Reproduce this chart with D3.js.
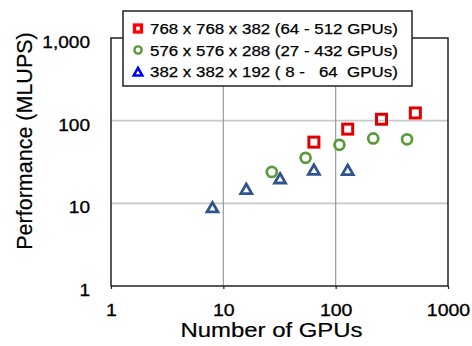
<!DOCTYPE html>
<html><head><meta charset="utf-8">
<script src="https://cdn.jsdelivr.net/npm/d3@7"></script>
<style>
html,body{margin:0;padding:0;background:#fff;}
text{font-family:"Liberation Sans",Arial,Helvetica,sans-serif;fill:#000;stroke:#000;stroke-width:0.25px;}
</style></head>
<body><svg id="c" width="472" height="346"></svg>
<script>
// Data
const xTicks = [1, 10, 100, 1000];
const xTickLabels = ["1", "10", "100", "1000"];
const yTicks = [1, 10, 100, 1000];
const yTickLabels = ["1", "10", "100", "1,000"];
const seriesNames = [
  "768 x 768 x 382 (64 - 512 GPUs)",
  "576 x 576 x 288 (27 - 432 GPUs)",
  "382 x 382 x 192 ( 8 -   64  GPUs)"
];
const gpusA = [64, 128, 256, 512];
const perfA = [55, 79, 104, 124];
const gpusB = [27, 54, 108, 216, 432];
const perfB = [24, 35.5, 51, 61, 59.5];
const gpusC = [8, 16, 32, 64, 128];
const perfC = [9.1, 15.2, 20.4, 26, 25.8];

const svg = d3.select("#c");
const W = 472, H = 346;
const m = {left: 111, right: 24, top: 38, bottom: 60};
const x = d3.scaleLog().domain([1, 1000]).range([m.left, W - m.right]);
const y = d3.scaleLog().domain([1, 1000]).range([H - m.bottom, m.top]);

// grid
svg.append("g").selectAll("line").data([10, 100]).join("line")
  .attr("x1", m.left).attr("x2", W - m.right)
  .attr("y1", d => y(d)).attr("y2", d => y(d))
  .attr("stroke", "#c8c8c8").attr("stroke-width", 1.6);
svg.append("g").selectAll("line").data([10, 100]).join("line")
  .attr("y1", m.top).attr("y2", H - m.bottom)
  .attr("x1", d => x(d)).attr("x2", d => x(d))
  .attr("stroke", "#9a9a9a").attr("stroke-width", 1.2);

// frame
svg.append("rect").attr("x", m.left).attr("y", m.top)
  .attr("width", W - m.right - m.left).attr("height", H - m.bottom - m.top)
  .attr("fill", "none").attr("stroke", "#222").attr("stroke-width", 1.5);

// axes
const xAxis = svg.append("g").attr("transform", `translate(0,${H - m.bottom})`)
  .call(d3.axisBottom(x).tickValues(xTicks).tickFormat((d, i) => xTickLabels[i]).tickSizeInner(3).tickSizeOuter(0));
xAxis.select(".domain").remove();
xAxis.selectAll(".tick line").attr("stroke", "#222").attr("stroke-width", 1.2);
xAxis.selectAll(".tick text").attr("y", 0).attr("dy", 0)
  .attr("transform", "translate(0,29.5) scale(1.22,1)")
  .style("font-size", "16px").style("stroke-width", "0.3px");

const yAxis = svg.append("g").attr("transform", `translate(${m.left},0)`)
  .call(d3.axisLeft(y).tickValues(yTicks).tickFormat((d, i) => yTickLabels[i]).tickSize(0));
yAxis.select(".domain").remove();
yAxis.selectAll(".tick text").attr("x", 0).attr("dy", 0)
  .attr("transform", "translate(-21,9.5) scale(1.19,1)")
  .attr("text-anchor", "end")
  .style("font-size", "16px").style("stroke-width", "0.3px");

// axis titles
svg.append("text").attr("text-anchor", "middle")
  .attr("transform", `translate(${(x(1) + x(1000)) / 2 - 8},337) scale(1.14,1)`)
  .style("font-size", "21px").style("stroke-width", "0.2px").text("Number of GPUs");
svg.append("text").attr("text-anchor", "middle")
  .attr("transform", "translate(31.5,141) rotate(-90)")
  .style("font-size", "21.5px").style("stroke-width", "0.2px").text("Performance (MLUPS)");

// markers
function tri(w, h) { return `M0,${-h/2}L${w/2},${h/2}L${-w/2},${h/2}Z`; }
svg.append("g").selectAll("rect").data(gpusA.map((g, i) => [g, perfA[i]])).join("rect")
  .attr("x", d => x(d[0]) - 5).attr("y", d => y(d[1]) - 5)
  .attr("width", 10).attr("height", 10)
  .attr("fill", "none").attr("stroke", "#e00000").attr("stroke-width", 3);
svg.append("g").selectAll("circle").data(gpusB.map((g, i) => [g, perfB[i]])).join("circle")
  .attr("cx", d => x(d[0])).attr("cy", d => y(d[1])).attr("r", 5)
  .attr("fill", "none").attr("stroke", "#5b9a3a").attr("stroke-width", 2.7);
svg.append("g").selectAll("path").data(gpusC.map((g, i) => [g, perfC[i]])).join("path")
  .attr("d", tri(11, 9.5))
  .attr("transform", d => `translate(${x(d[0])},${y(d[1]) + 0.5})`)
  .attr("fill", "none").attr("stroke", "#2f5591").attr("stroke-width", 2.8)
  .attr("stroke-linejoin", "miter");

// legend
const lg = svg.append("g");
lg.append("rect").attr("x", 123).attr("y", 11).attr("width", 289).attr("height", 75)
  .attr("fill", "#fff").attr("stroke", "#222").attr("stroke-width", 1.5);
const rows = [28.5, 50, 71.7];
lg.append("rect").attr("x", 134.5).attr("y", rows[0] - 3.5).attr("width", 7).attr("height", 7)
  .attr("fill", "none").attr("stroke", "#ff0000").attr("stroke-width", 3.3);
lg.append("circle").attr("cx", 138).attr("cy", rows[1]).attr("r", 3.6)
  .attr("fill", "none").attr("stroke", "#5b9a32").attr("stroke-width", 2.4);
lg.append("path").attr("d", tri(8.5, 7.5)).attr("transform", `translate(138,${rows[2]})`)
  .attr("fill", "none").attr("stroke", "#0000ff").attr("stroke-width", 2.6);
lg.selectAll("text.l").data(seriesNames).join("text").attr("class", "l")
  .attr("transform", (d, i) => `translate(150,${rows[i] + 5.5}) scale(1.09,1)`)
  .attr("xml:space", "preserve").style("white-space", "pre")
  .style("font-size", "15.5px").style("stroke-width", "0.25px").text(d => d);
</script></body></html>
